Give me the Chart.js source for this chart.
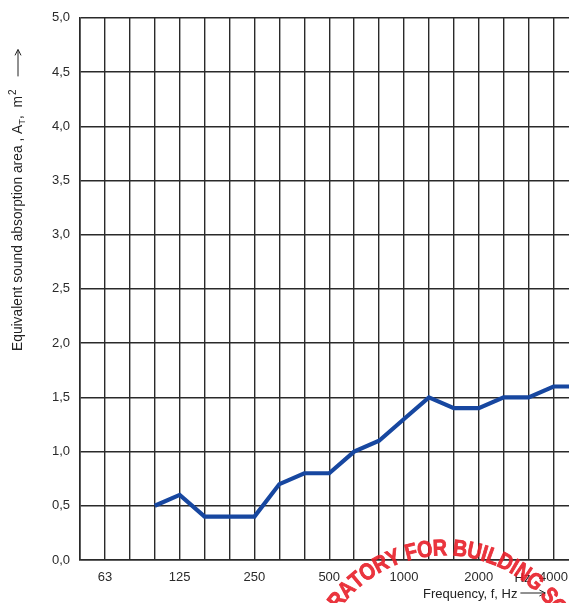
<!DOCTYPE html>
<html>
<head>
    <meta charset="UTF-8">
    <title>Sound absorption</title>
    <script src="https://cdn.jsdelivr.net/npm/chart.js@4.4.1/dist/chart.umd.min.js"></script>
    <style>
        html, body { margin: 0; padding: 0; background: #fff; overflow: hidden; }
        #wrap { width: 569px; height: 603px; }
    </style>
</head>
<body>
<div id="wrap"><canvas id="myChart" width="569" height="603"></canvas></div>
<script>
    // third-octave bands, 50 Hz .. 5000 Hz
    var freqs = ['50', '63', '80', '100', '125', '160', '200', '250', '315', '400', '500',
                 '630', '800', '1000', '1250', '1600', '2000', '2500', '3150', '4000', '5000'];
    var area = [null, null, null, 0.5, 0.6, 0.4, 0.4, 0.4, 0.7, 0.8, 0.8,
                1.0, 1.1, 1.3, 1.5, 1.4, 1.4, 1.5, 1.5, 1.6, 1.6];
    var shownLabels = ['63', '125', '250', '500', '1000', '2000', '4000'];
    var yTicks = [0, 0.5, 1, 1.5, 2, 2.5, 3, 3.5, 4, 4.5, 5];

    var FONT = '"Liberation Sans", Arial, sans-serif';
    var gridCol = '#2a2a2a';

    var points = [];
    for (var i = 0; i < freqs.length; i++) {
        points.push({ x: i, y: area[i] });
    }

    // axis titles and the stamp
    var extras = {
        id: 'extras',
        afterDraw: function (chart) {
            var ctx = chart.ctx;
            ctx.save();
            ctx.fillStyle = '#222';
            ctx.strokeStyle = '#222';

            // y title, rotated
            ctx.translate(22, 351);
            ctx.rotate(-Math.PI / 2);
            ctx.textBaseline = 'alphabetic';
            ctx.textAlign = 'left';
            ctx.font = '13.8px ' + FONT;
            var x = 0;
            var s = 'Equivalent sound absorption area , A';
            ctx.fillText(s, x, 0); x += ctx.measureText(s).width;
            ctx.font = '9.5px ' + FONT;
            ctx.fillText('T', x, 3); x += ctx.measureText('T').width;
            ctx.font = '13.8px ' + FONT;
            s = ',  m';
            ctx.fillText(s, x, 0); x += ctx.measureText(s).width;
            ctx.font = '10px ' + FONT;
            ctx.fillText('2', x + 1, -6); x += ctx.measureText('2').width + 14;
            ctx.lineWidth = 1;
            ctx.beginPath();
            ctx.moveTo(x, -4); ctx.lineTo(x + 26, -4);
            ctx.stroke();
            ctx.beginPath();
            ctx.moveTo(x + 21, -7); ctx.lineTo(x + 27, -4); ctx.lineTo(x + 21, -1);
            ctx.stroke();
            ctx.setTransform(chart.currentDevicePixelRatio, 0, 0, chart.currentDevicePixelRatio, 0, 0);

            // x title
            ctx.font = '13px ' + FONT;
            ctx.textAlign = 'left';
            var xs = chart.scales.x;
            ctx.fillText('Hz', xs.getPixelForValue(19) - 39, 582);
            s = 'Frequency, f, Hz';
            ctx.fillText(s, 423, 598);
            var ax = 423 + ctx.measureText(s).width + 3;
            ctx.beginPath();
            ctx.moveTo(ax, 593); ctx.lineTo(ax + 24, 593);
            ctx.stroke();
            ctx.beginPath();
            ctx.moveTo(ax + 19, 590); ctx.lineTo(ax + 25, 593); ctx.lineTo(ax + 19, 596);
            ctx.stroke();

            // red stamp text along an arc
            var stamp = 'LABORATORY FOR BUILDING SCIENCE';
            var cx = 445, cy = 686, r = 137, sx = 0.86;
            ctx.font = 'bold 23px ' + FONT;
            ctx.fillStyle = 'rgba(232, 32, 42, 0.9)';
            ctx.strokeStyle = 'rgba(232, 32, 42, 0.9)';
            ctx.lineWidth = 0.8;
            ctx.textAlign = 'center';
            ctx.textBaseline = 'middle';
            var before = ctx.measureText('LABOR').width * sx;
            var a = -46 * Math.PI / 180 - (before + ctx.measureText('A').width * sx / 2) / r;
            for (var k = 0; k < stamp.length; k++) {
                var ch = stamp[k];
                var w = ctx.measureText(ch).width * sx + 0.2;
                var mid = a + (w / 2) / r;
                ctx.save();
                ctx.translate(cx + r * Math.sin(mid), cy - r * Math.cos(mid));
                ctx.rotate(mid);
                ctx.scale(sx, 1);
                ctx.fillText(ch, 0, 0);
                ctx.strokeText(ch, 0, 0);
                ctx.restore();
                a += w / r;
            }
            ctx.restore();
        }
    };

    const config = {
        type: 'line',
        data: {
            datasets: [{
                data: points,
                borderColor: '#1747a0',
                borderWidth: 4.2,
                pointRadius: 0,
                tension: 0,
                spanGaps: false
            }]
        },
        options: {
            responsive: false,
            animation: false,
            layout: { padding: { top: 16, right: 0, bottom: 0, left: 0 } },
            plugins: { legend: { display: false }, tooltip: { enabled: false } },
            scales: {
                x: {
                    type: 'linear',
                    min: 0,
                    max: 19.62,
                    afterBuildTicks: function (scale) {
                        var t = [];
                        for (var i = 0; i <= 19; i++) t.push({ value: i });
                        scale.ticks = t;
                    },
                    afterFit: function (scale) {
                        scale.height = 43;
                        scale.paddingRight = 0;
                        scale.paddingLeft = 0;
                    },
                    grid: { color: gridCol, lineWidth: 1.4, drawTicks: false },
                    border: { color: gridCol, width: 1.6 },
                    ticks: {
                        autoSkip: false,
                        maxRotation: 0,
                        padding: 10,
                        color: '#2a2a2a',
                        font: { family: FONT, size: 13 },
                        callback: function (v) {
                            var f = freqs[v];
                            return shownLabels.indexOf(f) >= 0 ? f : '';
                        }
                    }
                },
                y: {
                    min: 0,
                    max: 5,
                    afterBuildTicks: function (scale) {
                        scale.ticks = yTicks.map(function (v) { return { value: v }; });
                    },
                    afterFit: function (scale) { scale.width = 80; },
                    grid: { color: gridCol, lineWidth: 1.4, drawTicks: false },
                    border: { color: gridCol, width: 1.6 },
                    ticks: {
                        padding: 10,
                        color: '#2a2a2a',
                        font: { family: FONT, size: 13 },
                        callback: function (v) { return v.toFixed(1).replace('.', ','); }
                    }
                }
            }
        },
        plugins: [extras]
    };

    var myChart = new Chart(document.getElementById('myChart'), config);
</script>
</body>
</html>
